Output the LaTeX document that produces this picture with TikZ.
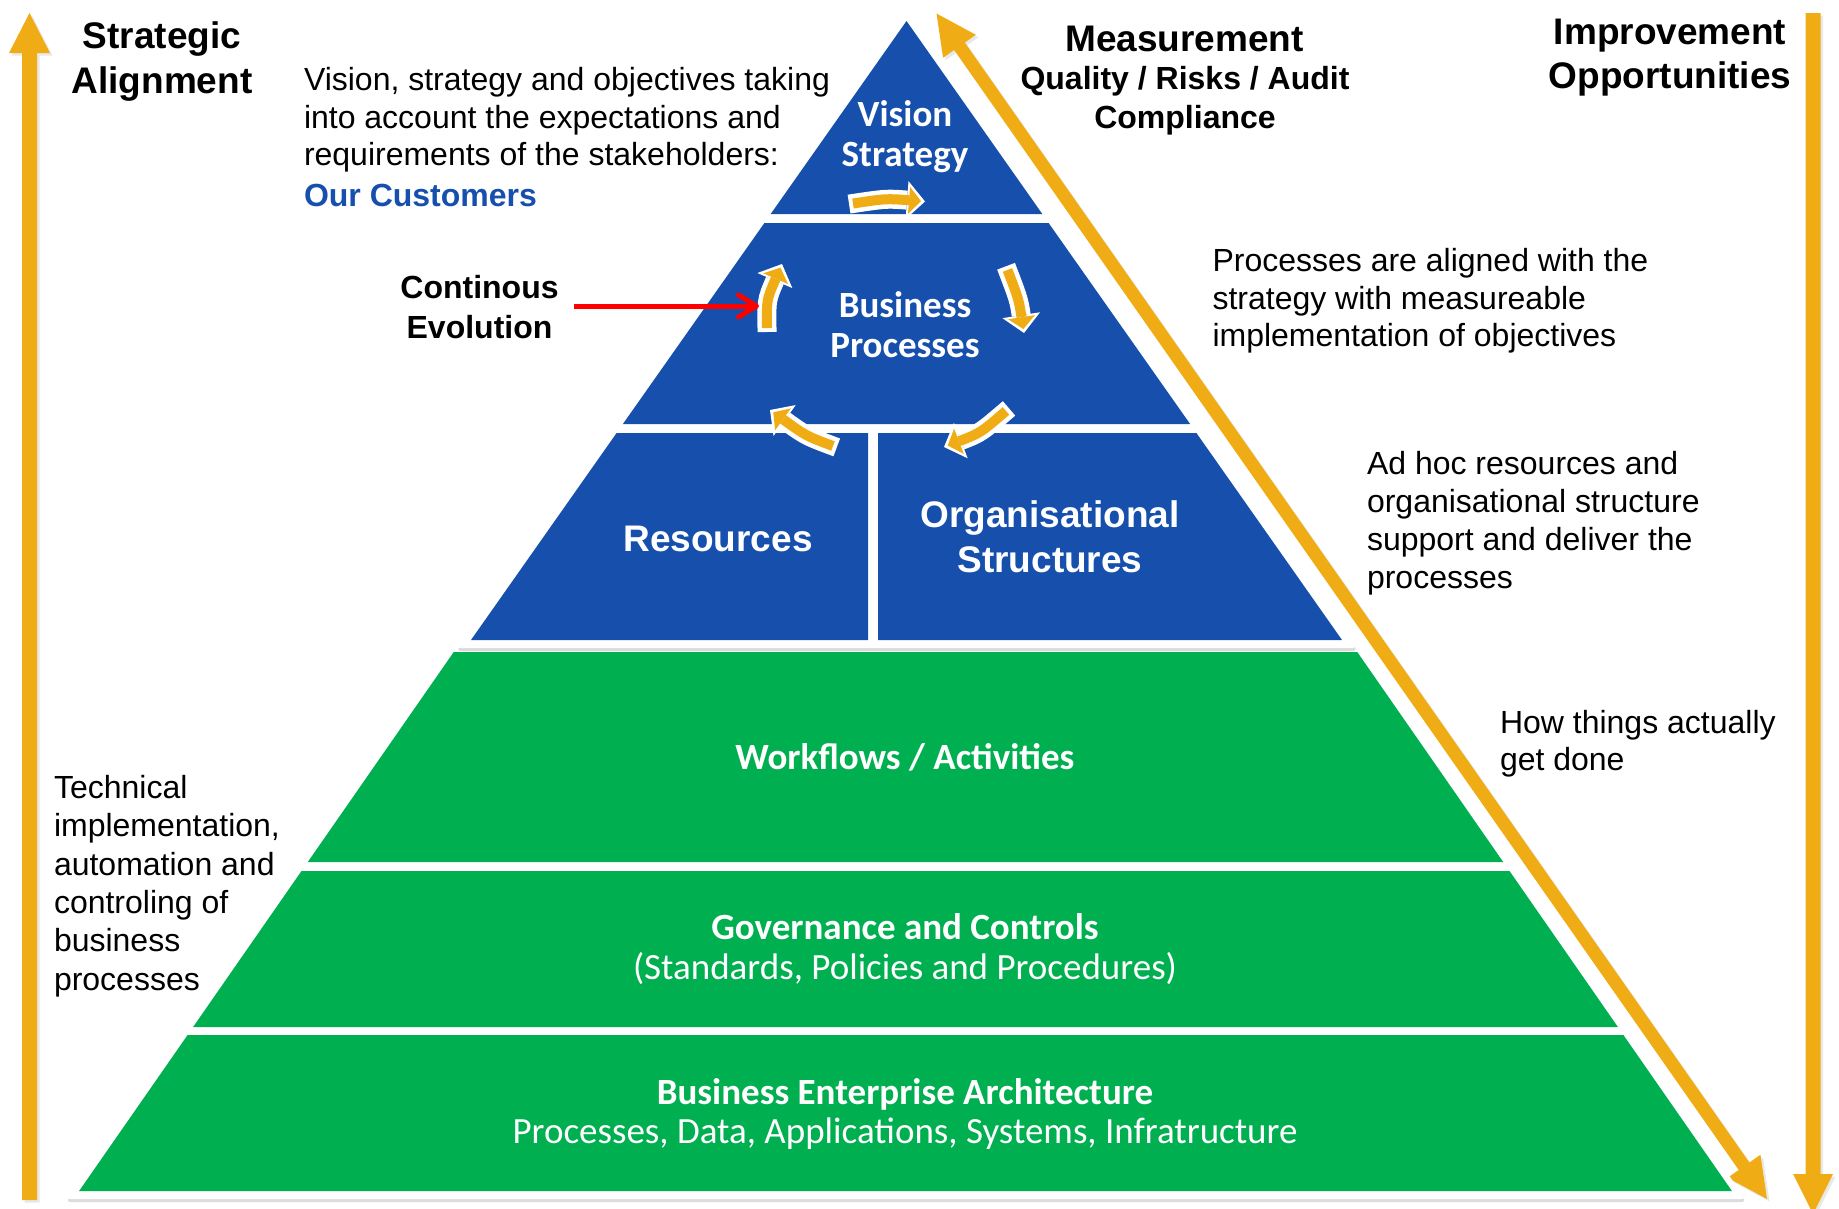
\documentclass[tikz,border=0pt]{standalone}
\usepackage{fontspec}
\setmainfont{Liberation Sans}
\newfontfamily\calibri{Carlito}
\usetikzlibrary{arrows.meta,shadows}
\definecolor{pblue}{RGB}{22,80,172}
\definecolor{pgreen}{RGB}{0,175,80}
\definecolor{porange}{RGB}{240,172,20}
\definecolor{pred}{RGB}{255,0,0}
\begin{document}
\begin{tikzpicture}[x=1pt,y=-1pt,
  lbl/.style={inner sep=0pt, outer sep=0pt},
  txt/.style={lbl, font=\fontsize{32}{37.5}\selectfont, align=left, anchor=north west},
  ttl/.style={lbl, font=\bfseries\fontsize{37}{45}\selectfont, align=center, anchor=north},
  inblue/.style={lbl, text=white, font=\calibri\bfseries\fontsize{37}{40}\selectfont, align=center, anchor=north},
  ingreen/.style={lbl, text=white, font=\calibri\fontsize{37}{40}\selectfont, align=center, anchor=north},
  cycw/.style={draw=white, line width=19pt, shorten <=-4pt, -{Triangle[length=18pt,width=38pt,line width=0pt]}},
  cyco/.style={draw=porange, line width=10pt, shorten >=4pt, -{Triangle[length=12pt,width=27pt,line width=0pt]}},
  dsh/.style={drop shadow={opacity=0.28, shadow xshift=0.5pt, shadow yshift=-3pt}},
  ash/.style={drop shadow={opacity=0.18, shadow xshift=2.5pt, shadow yshift=-2.5pt}},
]
\useasboundingbox (0,0) rectangle (1839,1208);

% big orange arrows
\fill[porange, ash] (22,1200) -- (22,53) -- (9,53) -- (29.5,13) -- (50,53) -- (37,53) -- (37,1200) -- cycle;
\fill[porange, ash] (1805.5,13) -- (1820.5,13) -- (1820.5,1174) -- (1833,1174) -- (1813,1214) -- (1793,1174) -- (1805.5,1174) -- cycle;
\fill[porange, ash] (936.5,13.5) -- (975.83,34.78) -- (964.77,42.53) -- (1749.37,1162.51) -- (1760.43,1154.76)
  -- (1767,1199) -- (1727.67,1177.72) -- (1738.73,1169.97) -- (954.13,49.99) -- (943.07,57.74) -- cycle;

% green part
\fill[white, dsh, rounded corners=4pt] (451.3,644) -- (1359.7,644) -- (1745.4,1199) -- (65.6,1199) -- cycle;
\fill[pgreen] (453.75,652) -- (1357.25,652) -- (1503.2,862) -- (307.8,862) -- cycle;
\fill[pgreen] (301.5,871) -- (1509.5,871) -- (1617.9,1027) -- (193.1,1027) -- cycle;
\fill[pgreen] (187.6,1035) -- (1623.4,1035) -- (1731.9,1191) -- (79.1,1191) -- cycle;

% blue part
\fill[white, dsh, rounded corners=4pt] (906.5,7.5) -- (1357,648) -- (456,648) -- cycle;
\fill[pblue] (906.5,21) -- (1042.3,214) -- (770.7,214) -- cycle;
\fill[pblue] (764.4,223) -- (1048.6,223) -- (1190.1,424) -- (622.9,424) -- cycle;
\fill[pblue] (616.6,433) -- (868,433) -- (868,640) -- (471,640) -- cycle;
\fill[pblue] (878,433) -- (1196.4,433) -- (1342,640) -- (878,640) -- cycle;

% cycle arrows
\coordinate (s1) at (853,203.5);  \coordinate (c1) at (886.3,198.5); \coordinate (e1) at (925,201.5);
\coordinate (s2) at (1007.5,270); \coordinate (c2) at (1018.75,299.5); \coordinate (e2) at (1024,333);
\coordinate (s3) at (1006,411);   \coordinate (c3) at (980.3,433);   \coordinate (e3) at (944,447);
\coordinate (s4) at (833,446);    \coordinate (c4) at (806.2,436);   \coordinate (e4) at (770,410);
\coordinate (s5) at (767,328);    \coordinate (c5) at (766.5,300);   \coordinate (e5) at (782,264);
\foreach \i in {1,...,5}{
  \draw[cycw] (s\i) .. controls (c\i) .. (e\i);
  \draw[cyco] (s\i) .. controls (c\i) .. (e\i);
}

% texts
\node[ttl] (sa) at (162,16.5) {\strut Strategic\\Alignment};
\node[txt] (vis) at (304,64.25) {\strut Vision, strategy and objectives taking\\into account the expectations and\\requirements of the stakeholders:\\[3pt]\textcolor{pblue}{\textbf{Our Customers}}};
\node[lbl, font=\bfseries\fontsize{32}{39.5}\selectfont, align=center, anchor=north] (ce) at (479.5,270.85) {\strut Continous\\Evolution};
\node[lbl, font=\bfseries\fontsize{37}{45}\selectfont, anchor=base] (meas) at (1184.5,51) {Measurement};
\node[lbl, font=\bfseries\fontsize{32}{39}\selectfont, align=center, anchor=north] (qra) at (1185,61.7) {\strut Quality / Risks / Audit\\Compliance};
\node[ttl, font=\bfseries\fontsize{37}{44.6}\selectfont] (imp) at (1670,12.8) {\strut Improvement\\Opportunities};
\node[txt] (pal) at (1212.5,245.35) {\strut Processes are aligned with the\\strategy with measureable\\implementation of objectives};
\node[txt, font=\fontsize{32}{38}\selectfont] (adh) at (1367,448) {\strut Ad hoc resources and\\organisational structure\\support and deliver the\\processes};
\node[txt] (how) at (1500,706.75) {\strut How things actually\\get done};
\node[txt, font=\fontsize{32}{38.3}\selectfont] (tec) at (54,771.7) {\strut Technical\\implementation,\\automation and\\controling of\\business\\processes};

\node[inblue, font=\calibri\bfseries\fontsize{37}{40.5}\selectfont] (vs) at (905,97.65) {\strut Vision\\Strategy};
\node[inblue] (bp) at (905,289) {\strut Business\\Processes};
\node[lbl, text=white, font=\bfseries\fontsize{37}{45}\selectfont, anchor=base] (res) at (718,551.6) {Resources};
\node[lbl, text=white, font=\bfseries\fontsize{37}{45}\selectfont, align=center, anchor=north] (org) at (1050,496.2) {\strut Organisational\\Structures};
\node[lbl, text=white, font=\calibri\bfseries\fontsize{37}{40}\selectfont, anchor=base] (wf) at (905,769) {Workflows / Activities};
\node[ingreen, font=\calibri\fontsize{37}{40.6}\selectfont] (gov) at (905,910.6) {\strut\textbf{Governance and Controls}\\(Standards, Policies and Procedures)};
\node[ingreen, font=\calibri\fontsize{37}{39}\selectfont] (bea) at (905,1076.7) {\strut\textbf{Business Enterprise Architecture}\\Processes, Data, Applications, Systems, Infratructure};

% red arrow
\coordinate (rs) at (574,306);
\coordinate (re) at (759,306);
\draw[pred, line width=5pt, -{Straight Barb[length=18pt,width=22pt,round]}] (rs) -- (re);
\end{tikzpicture}
\end{document}
